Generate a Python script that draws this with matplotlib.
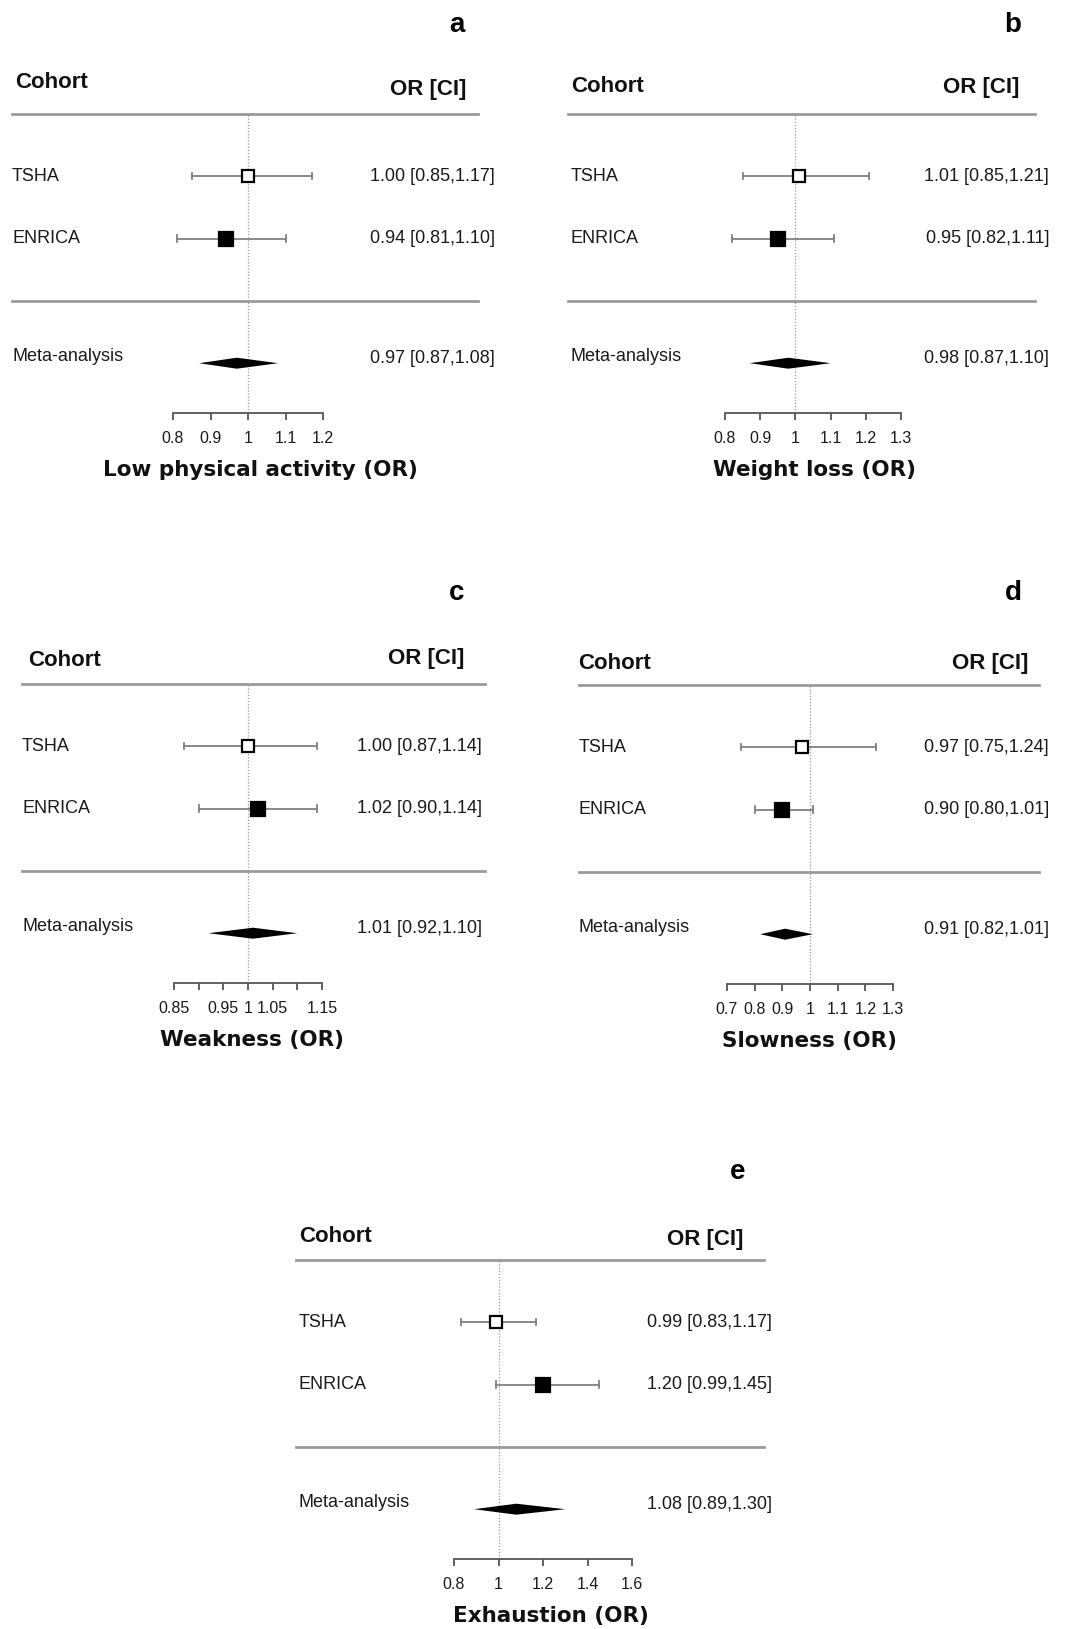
import numpy as np
import matplotlib.pyplot as plt
import matplotlib.transforms as mtransforms

# figure size in pixels
W, H = 1072, 1629

outcomes = ["Low physical activity", "Weight loss", "Weakness", "Slowness", "Exhaustion"]
letters = ["a", "b", "c", "d", "e"]
cohorts = ["TSHA", "ENRICA"]

tsha_or = [1.00, 1.01, 1.00, 0.97, 0.99]
tsha_lo = [0.85, 0.85, 0.87, 0.75, 0.83]
tsha_hi = [1.17, 1.21, 1.14, 1.24, 1.17]

enrica_or = [0.94, 0.95, 1.02, 0.90, 1.20]
enrica_lo = [0.81, 0.82, 0.90, 0.80, 0.99]
enrica_hi = [1.10, 1.11, 1.14, 1.01, 1.45]

meta_or = [0.97, 0.98, 1.01, 0.91, 1.08]
meta_lo = [0.87, 0.87, 0.92, 0.82, 0.89]
meta_hi = [1.08, 1.10, 1.10, 1.01, 1.30]

tick_vals = [
    [0.8, 0.9, 1.0, 1.1, 1.2],
    [0.8, 0.9, 1.0, 1.1, 1.2, 1.3],
    [0.85, 0.90, 0.95, 1.0, 1.05, 1.10, 1.15],
    [0.7, 0.8, 0.9, 1.0, 1.1, 1.2, 1.3],
    [0.8, 1.0, 1.2, 1.4, 1.6],
]
tick_text = [
    ["0.8", "0.9", "1", "1.1", "1.2"],
    ["0.8", "0.9", "1", "1.1", "1.2", "1.3"],
    ["0.85", "", "0.95", "1", "1.05", "", "1.15"],
    ["0.7", "0.8", "0.9", "1", "1.1", "1.2", "1.3"],
    ["0.8", "1", "1.2", "1.4", "1.6"],
]

# pixel layout of each panel
layout = [
    dict(axx=(173, 323), top=114, lab=12, coh=(15, 83), orci=(466, 89), line=(12, 478), val=495, let=(457, 25), xlab=260),
    dict(axx=(725, 901), top=114, lab=571, coh=(571, 87), orci=(1019, 88), line=(568, 1035), val=1049, let=(1013, 25), xlab=814),
    dict(axx=(174, 322), top=684, lab=22, coh=(28, 660), orci=(464, 658), line=(22, 485), val=482, let=(457, 593), xlab=252),
    dict(axx=(727, 893), top=685, lab=579, coh=(578, 663), orci=(1028, 663), line=(579, 1039), val=1049, let=(1013, 593), xlab=810),
    dict(axx=(454, 632), top=1260, lab=299, coh=(299, 1237), orci=(743, 1240), line=(296, 764), val=772, let=(738, 1172), xlab=551),
]

plt.rcParams['font.family'] = ['Liberation Sans', 'DejaVu Sans']

fig = plt.figure(figsize=(W / 100, H / 100), dpi=100)

ROW = 62.3  # pixels per row unit
AXH = 299   # axes height in pixels
ybot = -AXH / ROW
txt = '#1a1a1a'

def fmt(o, l, h):
    return f"{o:.2f} [{l:.2f},{h:.2f}]"

for i, L in enumerate(layout):
    x0, x1 = L['axx']
    ax = fig.add_axes([x0 / W, 1 - (L['top'] + AXH) / H, (x1 - x0) / W, AXH / H])
    ax.set_xlim(tick_vals[i][0], tick_vals[i][-1])
    ax.set_ylim(ybot, 0)
    for s in ['top', 'left', 'right']:
        ax.spines[s].set_visible(False)
    ax.spines['bottom'].set_color('#555555')
    ax.spines['bottom'].set_linewidth(1.3)
    ax.set_yticks([])
    ax.set_xticks(tick_vals[i])
    ax.set_xticklabels(tick_text[i], fontsize=11.5, color=txt)
    ax.tick_params(axis='x', direction='out', length=5, width=1.3, color='#555555', pad=8)
    ax.patch.set_alpha(0)

    tr = mtransforms.blended_transform_factory(fig.transFigure, ax.transData)

    # reference line at OR = 1
    ax.axvline(1.0, color='#999999', lw=0.9, ls=(0, (1, 1.5)), zorder=1)

    # separators
    for yy in [0, -3]:
        ax.plot([L['line'][0] / W, L['line'][1] / W], [yy, yy], transform=tr,
                color='#9a9a9a', lw=2, clip_on=False, zorder=2)

    # study rows
    rows = [-1, -2]
    ors = [tsha_or[i], enrica_or[i]]
    los = [tsha_lo[i], enrica_lo[i]]
    his = [tsha_hi[i], enrica_hi[i]]
    faces = ['white', 'black']
    sizes = [8, 9.5]
    for r, o, lo, hi, fc, ms, name in zip(rows, ors, los, his, faces, sizes, cohorts):
        ax.plot([lo, hi], [r, r], color='#808080', lw=1.3, zorder=3)
        ax.plot([lo, lo], [r - 0.05, r + 0.05], color='#808080', lw=1.3, zorder=3)
        ax.plot([hi, hi], [r - 0.05, r + 0.05], color='#808080', lw=1.3, zorder=3)
        ax.plot(o, r, marker='s', ms=ms, mfc=fc, mec='black', mew=1.6, zorder=4)
        ax.text(L['lab'] / W, r, name, transform=tr, ha='left', va='center',
                fontsize=13, color=txt)
        ax.text(L['val'] / W, r, fmt(o, lo, hi), transform=tr, ha='right', va='center',
                fontsize=13, color=txt)

    # pooled estimate
    rm = -4.0
    hh = 5.5 / ROW
    ax.fill([meta_lo[i], meta_or[i], meta_hi[i], meta_or[i]],
            [rm, rm + hh, rm, rm - hh], color='black', zorder=4, lw=0)
    ax.text(L['lab'] / W, rm + 0.1, "Meta-analysis", transform=tr, ha='left', va='center',
            fontsize=13, color=txt)
    ax.text(L['val'] / W, rm + 0.07, fmt(meta_or[i], meta_lo[i], meta_hi[i]), transform=tr,
            ha='right', va='center', fontsize=13, color=txt)

    # headers
    ax.text(L['coh'][0] / W, (L['top'] - L['coh'][1]) / ROW, "Cohort", transform=tr,
            ha='left', va='center', fontsize=16, fontweight='bold', color='#111111')
    ax.text(L['orci'][0] / W, (L['top'] - L['orci'][1]) / ROW, "OR [CI]", transform=tr,
            ha='right', va='center', fontsize=16, fontweight='bold', color='#111111')

    # x label
    ax.text(L['xlab'] / W, ybot - 57 / ROW, outcomes[i] + " (OR)", transform=tr,
            ha='center', va='center', fontsize=15.5, fontweight='bold',
            fontfamily=['DejaVu Sans'], color='#111111')

    # panel letter
    fig.text(L['let'][0] / W, 1 - L['let'][1] / H, letters[i], ha='center', va='center',
             fontsize=20, fontweight='bold', color='black')

fig.savefig("out.png", dpi=100, facecolor='white')
